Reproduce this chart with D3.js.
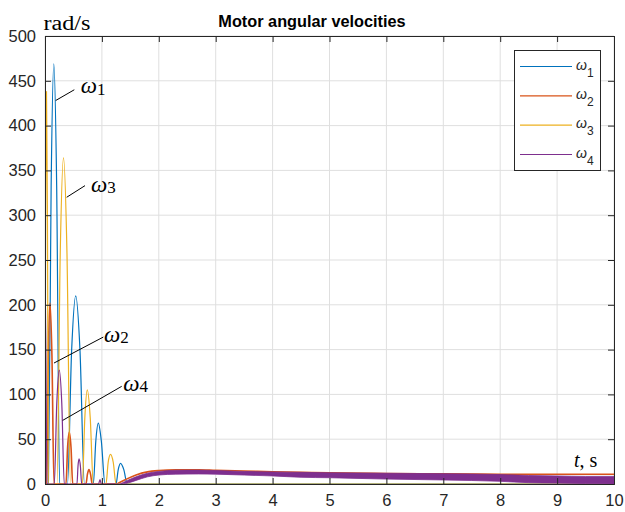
<!DOCTYPE html>
<html><head><meta charset="utf-8">
<script src="https://cdn.jsdelivr.net/npm/d3@7"></script>
<style>body{margin:0;background:#fff}svg{display:block}</style>
</head><body><svg id="c" width="625" height="512"></svg>
<script>
// ---- data ----
const xTicks = [0,1,2,3,4,5,6,7,8,9,10];
const yTicks = [0,50,100,150,200,250,300,350,400,450,500];
const seriesNames = ["1","2","3","4"];
const seriesColors = ["#0072BD","#D95319","#EDB120","#7E2F8E"];

// omega1 (blue) [t, rad/s]
const omega1 = [[0,0],[0.06,0],[0.108,333],[0.155,469],[0.205,333],[0.257,0],
  [0.395,0],[0.468,149],[0.54,210],[0.615,149],[0.694,0],
  [0.849,0],[0.893,48],[0.937,68],[0.99,48],[1.054,0],
  [1.248,0],[1.287,16],[1.327,23],[1.385,16],[1.446,0],[10,0]];
// omega2 (orange)
const omega2 = [[0,240],[0.022,0],[0.03,0],[0.058,143],[0.088,202],[0.122,143],[0.158,0],
  [0.369,0],[0.397,41],[0.427,58],[0.457,41],[0.487,0],
  [0.72,0],[0.746,11],[0.773,16],[0.8,11],[0.83,0],
  [1.25,0],[1.32,2],[1.45,6],[1.6,10],[1.8,13.5],[2.0,15],[2.3,15.8],[2.7,15.8],[3.0,15.2],
  [3.5,14.5],[4.0,13.7],[4.5,13.1],[5.0,12.6],[6.0,11.8],[7.0,11.3],[8.0,10.9],[8.5,10.8],
  [9.0,10.8],[9.5,10.8],[10,10.8]];
// omega3 (yellow)
const omega3 = [[0,0],[0.012,310],[0.026,438],[0.042,310],[0.06,0],
  [0.211,0],[0.268,258],[0.325,364],[0.386,258],[0.448,0],
  [0.656,0],[0.7,74],[0.743,105],[0.795,74],[0.849,0],
  [1.072,0],[1.11,24],[1.151,33],[1.2,24],[1.248,0],[10,0]];
// omega4 (purple) bouncing part
const omega4 = [[0,240],[0.012,170],[0.035,0],
  [0.163,0],[0.207,90],[0.251,127],[0.295,90],[0.339,0],
  [0.562,0],[0.58,20],[0.598,28],[0.622,20],[0.645,0],
  [0.94,0],[0.967,5],[0.99,0],[1.32,0]];
// omega4 fast oscillation envelope afterwards
const bandT  = [1.32,1.45,1.6,1.8,2.0,2.3,2.7,3.0,3.5,4.0,4.5,5.0,6.0,7.0,8.0,8.5,9.0,9.5,10];
const bandLo = [0,1,4,8,10,11,11.2,11,10,9,7.5,7,5.5,4.5,3,1.5,1,0.5,0];
const bandHi = [0,4,8,12,14,15.4,15.5,15,14,13.5,13,12.5,12,11.5,10.5,9.5,9,8.5,8.5];

// annotations: [label digit, line start (t,v), line end (t,v), text anchor (t,v)]
const notes = [
  ["1",[0.188,428],[0.515,440],[0.627,436]],
  ["3",[0.381,320],[0.703,333],[0.808,326]],
  ["2",[0.158,135],[1.025,164],[1.037,159]],
  ["4",[0.311,71],[1.348,109],[1.376,104]]
];

// ---- drawing ----
const svg = d3.select("#c");
svg.append("rect").attr("width",625).attr("height",512).attr("fill","#fff");
const x = d3.scaleLinear().domain([0,10]).range([45,614]);
const y = d3.scaleLinear().domain([0,500]).range([484,36]);
const axc = "#262626";

// grid
const g = svg.append("g");
g.selectAll(".gx").data(xTicks).join("line")
  .attr("x1",d=>x(d)).attr("x2",d=>x(d)).attr("y1",y(0)).attr("y2",y(500))
  .attr("stroke","#dfdfdf").attr("stroke-width",1);
g.selectAll(".gy").data(yTicks).join("line")
  .attr("y1",d=>y(d)).attr("y2",d=>y(d)).attr("x1",x(0)).attr("x2",x(10))
  .attr("stroke","#dfdfdf").attr("stroke-width",1);

svg.append("clipPath").attr("id","clip").append("rect")
  .attr("x",x(0)).attr("y",y(500)).attr("width",x(10)-x(0)).attr("height",y(0)-y(500)+1);
const plot = svg.append("g").attr("clip-path","url(#clip)");
const line = d3.line().x(d=>x(d[0])).y(d=>y(d[1])).curve(d3.curveMonotoneX);

plot.append("path").attr("d",line(omega1)).attr("fill","none").attr("stroke",seriesColors[0]).attr("stroke-width",1.2);
plot.append("path").attr("d",line(omega2)).attr("fill","none").attr("stroke",seriesColors[1]).attr("stroke-width",1.6);
plot.append("path").attr("d",line(omega3)).attr("fill","none").attr("stroke",seriesColors[2]).attr("stroke-width",1.2);
plot.append("path").attr("d",line(omega4)).attr("fill","none").attr("stroke",seriesColors[3]).attr("stroke-width",1.2);
const band = bandT.map((t,i)=>[t,bandLo[i],bandHi[i]]);
plot.append("path").attr("d",d3.area().x(d=>x(d[0])).y0(d=>y(d[1])).y1(d=>y(d[2])).curve(d3.curveMonotoneX)(band))
  .attr("fill",seriesColors[3]).attr("stroke",seriesColors[3]).attr("stroke-width",0.8);

// axes box with inward ticks
const axes = svg.append("g");
axes.append("g").attr("transform",`translate(0,${y(0)})`)
  .call(d3.axisBottom(x).tickValues(xTicks).tickSize(-6).tickPadding(10).tickFormat(d3.format("d")));
axes.append("g").attr("transform",`translate(${x(0)},0)`)
  .call(d3.axisLeft(y).tickValues(yTicks).tickSize(-6).tickPadding(9).tickFormat(d3.format("d")));
axes.append("g").attr("transform",`translate(0,${y(500)})`)
  .call(d3.axisTop(x).tickValues(xTicks).tickSize(-6).tickFormat(""));
axes.append("g").attr("transform",`translate(${x(10)},0)`)
  .call(d3.axisRight(y).tickValues(yTicks).tickSize(-6).tickFormat(""));
axes.selectAll(".domain").attr("stroke",axc).attr("stroke-width",1);
axes.selectAll(".tick line").attr("stroke",axc);
axes.selectAll("text").attr("font-family","Liberation Sans, Arial, sans-serif").attr("font-size",16.5).attr("fill",axc);

// title and axis labels
svg.append("text").attr("x",312).attr("y",26.5).attr("text-anchor","middle")
  .attr("font-family","Liberation Sans, Arial, sans-serif").attr("font-weight","bold").attr("font-size",16.3)
  .attr("fill","#000").text("Motor angular velocities");
svg.append("text").attr("x",43.5).attr("y",30).attr("font-family","Liberation Serif, Times New Roman, serif")
  .attr("font-size",20).attr("textLength",47).attr("lengthAdjust","spacingAndGlyphs").attr("fill","#000").text("rad/s");
const tl = svg.append("text").attr("x",574).attr("y",466.5).attr("font-family","Liberation Serif, Times New Roman, serif")
  .attr("font-size",20).attr("fill","#000");
tl.append("tspan").attr("font-style","italic").text("t");
tl.append("tspan").text(", s");

// annotations
const an = svg.append("g");
notes.forEach(n=>{
  an.append("line").attr("x1",x(n[1][0])).attr("y1",y(n[1][1])).attr("x2",x(n[2][0])).attr("y2",y(n[2][1]))
    .attr("stroke","#000").attr("stroke-width",1);
  const t = an.append("text").attr("x",x(n[3][0])).attr("y",y(n[3][1]))
    .attr("font-family","Liberation Serif, Times New Roman, serif").attr("fill","#000");
  t.append("tspan").attr("font-style","italic").attr("font-size",23).text("ω");
  t.append("tspan").attr("font-size",17).attr("dy",1.5).text(n[0]);
});

// legend
const lg = svg.append("g");
lg.append("rect").attr("x",514.5).attr("y",50.5).attr("width",86).attr("height",120)
  .attr("fill","#fff").attr("stroke",axc).attr("stroke-width",1);
const legY = d3.scalePoint().domain(seriesNames).range([66.5,154.5]);
seriesNames.forEach((s,i)=>{
  lg.append("line").attr("x1",520).attr("x2",572).attr("y1",legY(s)).attr("y2",legY(s))
    .attr("stroke",seriesColors[i]).attr("stroke-width",1.2);
  const t = lg.append("text").attr("x",576).attr("y",legY(s)+3).attr("font-family","Liberation Sans, Arial, sans-serif").attr("fill",axc);
  t.append("tspan").attr("font-size",14).attr("font-style","italic").text("ω");
  t.append("tspan").attr("font-size",12).attr("dy",7).text(s);
});
</script></body></html>
